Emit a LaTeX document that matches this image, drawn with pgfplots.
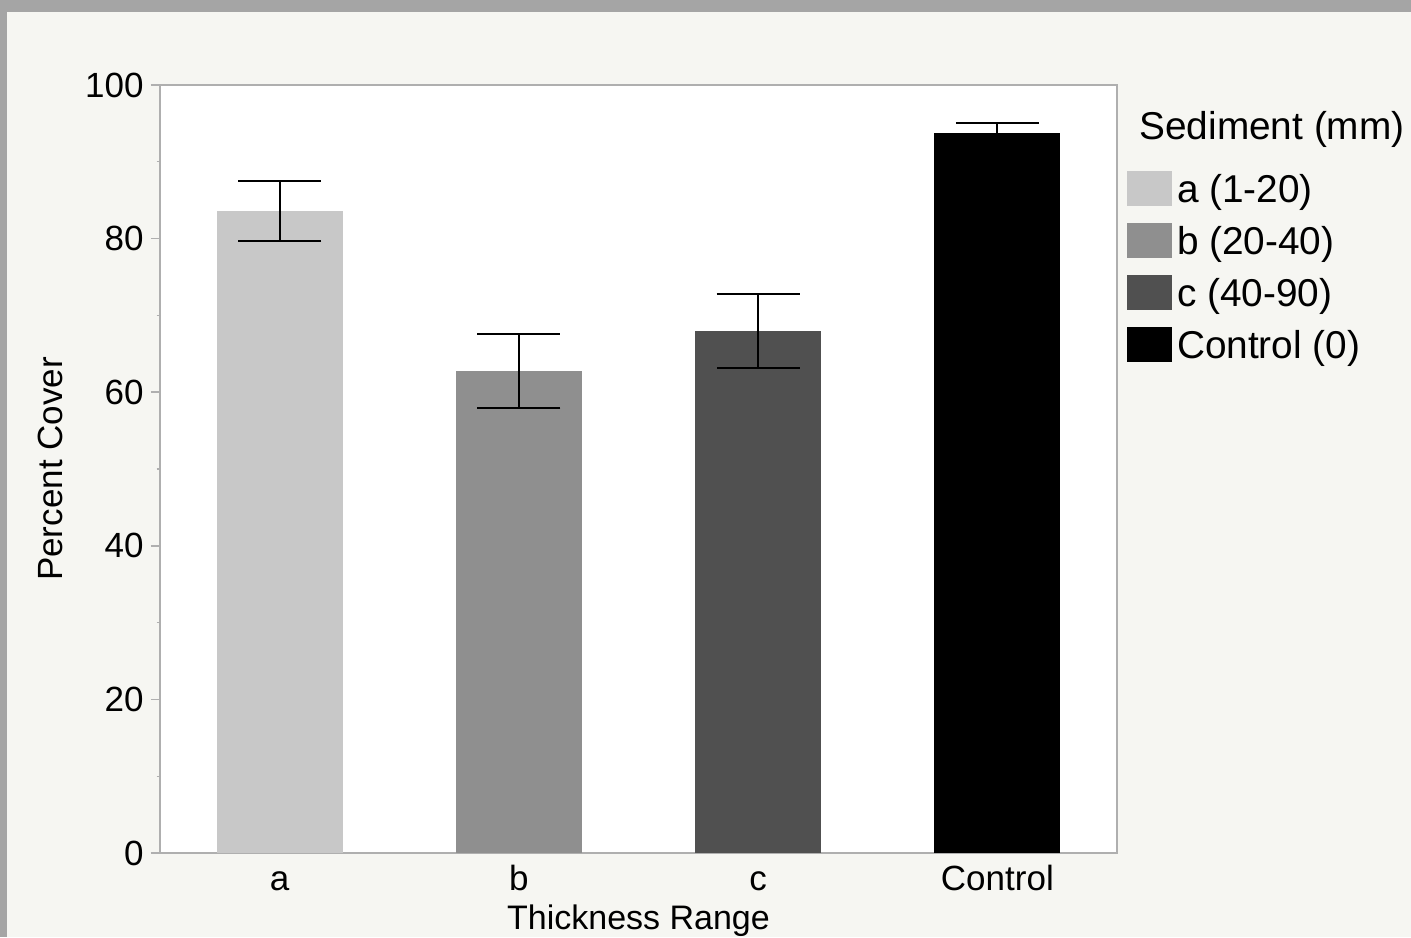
\documentclass[border=0pt]{standalone}
\usepackage{pgfplots}
\pgfplotsset{compat=1.18}
\usepackage{fontspec}
\setmainfont{Liberation Sans}
\definecolor{bggray}{RGB}{165,165,165}
\definecolor{bgpanel}{RGB}{246,246,242}
\definecolor{axgray}{RGB}{175,175,175}
\definecolor{barA}{RGB}{200,200,200}
\definecolor{barB}{RGB}{143,143,143}
\definecolor{barC}{RGB}{80,80,80}
\definecolor{barD}{RGB}{0,0,0}
\definecolor{errc}{RGB}{0,0,0}
\pgfplotsset{
  myleg/.style={legend image code/.code={\fill[##1] (0pt,-2pt) rectangle (22.5pt,15.5pt);}},
  myerr/.style={error bars/.cd, y dir=both, y explicit,
     error bar style={errc, line width=1pt},
     error mark options={errc, line width=1pt, mark size=20.75pt, rotate=90}},
}
\begin{document}
\begin{tikzpicture}
\fill[bggray] (0,0) rectangle (705.5pt,468.5pt);
\fill[bgpanel] (3.5pt,0) rectangle (705.5pt,462.5pt);
\path[use as bounding box] (0,0) rectangle (705.5pt,468.5pt);
\begin{axis}[
  at={(80pt,42pt)}, anchor=south west,
  scale only axis, width=478.5pt, height=384pt,
  xmin=-0.5, xmax=3.5, ymin=0, ymax=100,
  axis background/.style={fill=white},
  axis line style={axgray, line width=0.7pt},
  ybar, bar width=63pt, bar shift=0pt,
  xtick={0,1,2,3}, xticklabels={a,b,c,Control},
  ytick={0,20,...,100}, minor ytick={10,30,...,90},
  tick align=outside, tick pos=left,
  major tick length=4.5pt, minor tick length=1.75pt,
  every tick/.style={axgray, line width=0.7pt},
  xtick style={draw=none},
  /pgf/number format/assume math mode=true,
  yticklabel style={anchor=east, inner sep=0pt, xshift=-3.5pt, font=\fontsize{17.5}{20}\selectfont},
  xticklabel style={anchor=base, inner sep=0pt, yshift=-14pt, font=\fontsize{17.5}{21}\selectfont},
  xlabel={Thickness Range}, ylabel={Percent Cover},
  xlabel style={at={(axis description cs:0.5,-0.099)}, anchor=base, inner sep=0pt, font=\fontsize{17}{20}\selectfont},
  ylabel style={at={(axis description cs:-0.1014,0.5)}, anchor=base, inner sep=0pt, font=\fontsize{17.5}{21}\selectfont},
  legend style={at={(1.01045,0.8893)}, anchor=north west, draw=none, fill=none,
     inner sep=0pt, outer sep=0pt, row sep=6pt, column sep=2.5pt,
     font=\fontsize{19.4}{23}\selectfont,
     nodes={inner sep=0pt, text height=16pt, text depth=4pt},
     cells={anchor=base west}},
]
\addplot[fill=barA, draw=none, myleg, myerr] coordinates {(0,83.6) +- (0,3.9)};
\addplot[fill=barB, draw=none, myleg, myerr] coordinates {(1,62.8) +- (0,4.8)};
\addplot[fill=barC, draw=none, myleg, myerr] coordinates {(2,68.0) +- (0,4.8)};
\addplot[fill=barD, draw=none, myleg, myerr] coordinates {(3,93.7) +- (0,1.4)};
\legend{a (1-20), b (20-40), c (40-90), Control (0)}
\end{axis}
\node[anchor=base west, inner sep=0pt, font=\fontsize{19.4}{22}\selectfont] at (569.5pt,398.5pt) {Sediment (mm)};
\end{tikzpicture}
\end{document}
